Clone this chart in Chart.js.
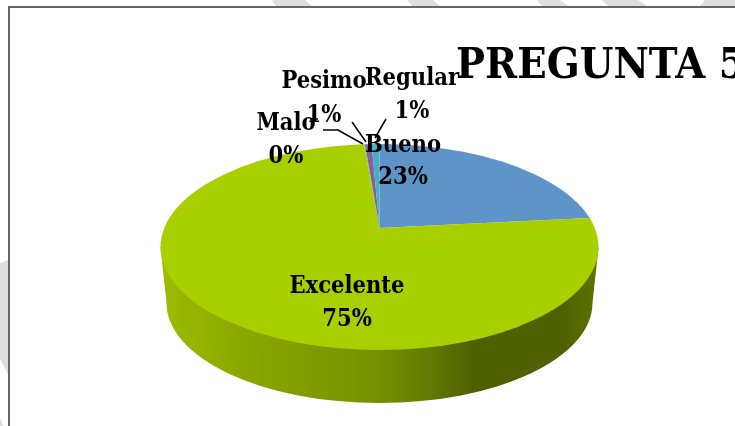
<!DOCTYPE html>
<html lang="es">
<head>
  <meta charset="UTF-8">
  <title>Pregunta 5</title>
  <script src="https://cdn.jsdelivr.net/npm/chart.js"></script>
  <style>
    html, body { margin: 0; padding: 0; background: #fff; overflow: hidden; }
    #wrap { width: 735px; height: 426px; }
  </style>
</head>
<body>
  <div id="wrap"><canvas id="chart" width="735" height="426"></canvas></div>
  <script>
    // Chart data
    const titleText = 'PREGUNTA 5';
    const categories = ['Bueno', 'Excelente', 'Malo', 'Pesimo', 'Regular'];
    const values = [23.4, 75.2, 0.1, 0.6, 0.7];
    const sliceColors = ['#5f94c9', '#a8d000', '#9bbb59', '#8064a2', '#4bacc6'];

    // Where each data label sits: centre x, first and second baseline
    const labelSpots = {
      Bueno: [403, 152, 184],
      Excelente: [347, 293, 326],
      Malo: [286, 130, 163],
      Pesimo: [324, 88, 122],
      Regular: [412, 85, 118]
    };
    const leaderLines = [
      [[323, 130], [338, 130], [363, 144]],
      [[312, 119], [318, 119]],
      [[352, 122], [366, 142]],
      [[386, 119], [375, 138]]
    ];
    const watermark = [
      [[272, 0], [305, 0], [312, 6], [276, 6]],
      [[407, 0], [433, 0], [440, 6], [412, 6]],
      [[537, 0], [560, 0], [568, 6], [542, 6]],
      [[602, 0], [638, 0], [647, 6], [608, 6]],
      [[705, 0], [735, 0], [735, 6], [700, 6]],
      [[0, 263], [8, 260], [8, 374], [0, 359]],
      [[0, 418], [3, 426], [0, 426]]
    ];

    const labelFont = 'bold condensed 23.5px "DejaVu Serif"';
    const titleFont = 'bold condensed 43px "DejaVu Serif"';

    // Paper, watermark stripes and frame behind the chart
    const paperPlugin = {
      id: 'paper',
      beforeDraw(chart) {
        const ctx = chart.ctx;
        ctx.save();
        ctx.fillStyle = '#fff';
        ctx.fillRect(0, 0, chart.width, chart.height);
        ctx.fillStyle = '#dedede';
        watermark.forEach(poly => {
          ctx.beginPath();
          poly.forEach(([x, y], i) => (i ? ctx.lineTo(x, y) : ctx.moveTo(x, y)));
          ctx.closePath();
          ctx.fill();
        });
        ctx.strokeStyle = '#666';
        ctx.lineWidth = 2;
        ctx.beginPath();
        ctx.moveTo(9, chart.height);
        ctx.lineTo(9, 7);
        ctx.lineTo(chart.width, 7);
        ctx.stroke();
        ctx.restore();
      }
    };

    // Squash the library's pie into a tilted disc and give it a side wall
    const discPlugin = {
      id: 'disc',
      beforeDatasetsDraw(chart) {
        const ctx = chart.ctx;
        const arc = chart.getDatasetMeta(0).data[0];
        const cx = arc.x;
        const cy = arc.y;

        const wall = ctx.createLinearGradient(166, 0, 592, 0);
        wall.addColorStop(0, '#9cbb00');
        wall.addColorStop(0.2, '#88a500');
        wall.addColorStop(0.5, '#779000');
        wall.addColorStop(0.62, '#617a00');
        wall.addColorStop(0.72, '#4e6000');
        wall.addColorStop(0.93, '#4e6000');
        wall.addColorStop(1, '#5c7000');
        ctx.save();
        ctx.fillStyle = wall;
        ctx.beginPath();
        ctx.moveTo(cx - 219, cy + 19);
        ctx.lineTo(cx - 213, cy + 75);
        ctx.ellipse(cx, cy + 75, 213, 100, 0, Math.PI, 0, true);
        ctx.lineTo(cx + 219, cy + 19);
        ctx.closePath();
        ctx.fill();

        ctx.beginPath();
        ctx.ellipse(cx, cy + 19, 219, 103, 0, 0, Math.PI * 2);
        ctx.clip();
        ctx.translate(cx, cy);
        ctx.scale(1.4, 0.66);
        ctx.translate(-cx, -cy);
      },
      afterDatasetsDraw(chart) {
        const ctx = chart.ctx;
        ctx.restore();

        ctx.save();
        ctx.strokeStyle = '#000';
        ctx.lineWidth = 1.5;
        leaderLines.forEach(line => {
          ctx.beginPath();
          line.forEach(([x, y], i) => (i ? ctx.lineTo(x, y) : ctx.moveTo(x, y)));
          ctx.stroke();
        });

        const total = values.reduce((a, b) => a + b, 0);
        ctx.fillStyle = '#000';
        ctx.font = labelFont;
        ctx.textAlign = 'center';
        categories.forEach((name, i) => {
          const [x, y1, y2] = labelSpots[name];
          ctx.fillText(name, x, y1);
          ctx.fillText(Math.round(values[i] / total * 100) + '%', x, y2);
        });

        ctx.font = titleFont;
        ctx.textAlign = 'left';
        ctx.fillText(titleText, 456, 78);
        ctx.restore();
      }
    };

    new Chart(document.getElementById('chart'), {
      type: 'pie',
      data: {
        labels: categories,
        datasets: [{
          data: values,
          backgroundColor: sliceColors,
          borderWidth: 0,
          clip: false
        }]
      },
      options: {
        responsive: false,
        animation: false,
        layout: { padding: { left: 24, top: 30 } },
        plugins: {
          legend: { display: false },
          tooltip: { enabled: false }
        }
      },
      plugins: [paperPlugin, discPlugin]
    });
  </script>
</body>
</html>
